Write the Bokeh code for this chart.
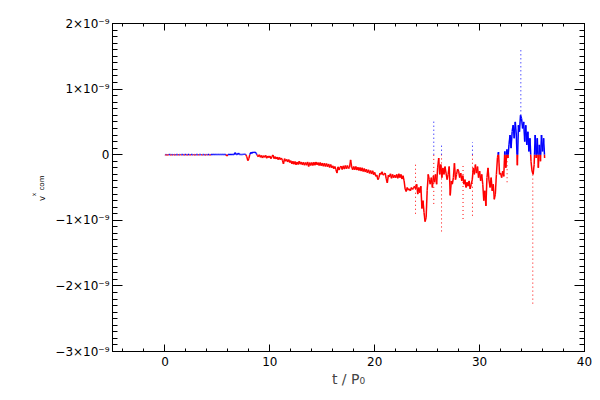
import numpy as np
from bokeh.plotting import figure
from bokeh.models import LinearAxis, FixedTicker, Range1d, ColumnDataSource, Label, Grid
from bokeh.embed import file_html
from bokeh.resources import INLINE

# ---------------- data (velocity in units of 1e-9) ----------------
t_start = 0.0
t_step = 0.1
v_com_x = [
    0.003, -0.004, 0.002, -0.005, 0.003, 0.002, -0.004, 0.003, -0.003, 0.002,
    -0.004, 0.003, 0.002, -0.005, 0.003, -0.003, 0.002, 0.003, -0.004, 0.002,
    0.003, -0.004, 0.002, 0.003, -0.005, 0.002, 0.003, -0.003, 0.002, -0.004,
    0.002, 0.003, -0.004, 0.002, 0.003, -0.005, 0.002, 0.003, -0.004, 0.003,
    -0.003, 0.002, 0.003, -0.004, 0.002, 0.003, 0.002, 0.003, 0.002, 0.003,
    0.003, 0.002, 0.003, 0.002, 0.003, 0.002, 0.003, 0.002, 0.003, -0.02,
    0.003, 0.002, 0.004, 0.003, 0.002, 0.003, 0.003, 0.03, 0.003, 0.002,
    0.025, 0.003, 0.002, 0.004, 0.003, 0.005, 0.006, 0.004, -0.03, -0.09,
    -0.06, 0.01, 0.035, 0.02, 0.04, 0.03, 0.04, 0.02, -0.01, -0.03,
    0.0, -0.04, -0.01, -0.05, -0.015, -0.04, -0.01, -0.055, -0.02, -0.045,
    -0.02, -0.06, -0.03, -0.005, -0.06, -0.03, -0.065, -0.035, -0.075, -0.04,
    -0.075, -0.05, -0.085, -0.14, -0.06, -0.1, -0.07, -0.11, -0.075, -0.12,
    -0.09, -0.14, -0.1, -0.145, -0.105, -0.155, -0.11, -0.15, -0.1, -0.145,
    -0.11, -0.155, -0.115, -0.16, -0.12, -0.16, -0.11, -0.18, -0.12, -0.165,
    -0.12, -0.165, -0.115, -0.16, -0.11, -0.155, -0.12, -0.165, -0.12, -0.17,
    -0.125, -0.175, -0.13, -0.18, -0.135, -0.185, -0.14, -0.195, -0.15, -0.2,
    -0.17, -0.215, -0.18, -0.225, -0.28, -0.185, -0.235, -0.19, -0.175, -0.225,
    -0.17, -0.22, -0.165, -0.215, -0.165, -0.21, -0.195, -0.08, -0.185, -0.23,
    -0.18, -0.23, -0.18, -0.235, -0.19, -0.24, -0.195, -0.25, -0.2, -0.255,
    -0.21, -0.265, -0.22, -0.275, -0.23, -0.285, -0.24, -0.295, -0.245, -0.305,
    -0.27, -0.33, -0.31, -0.38, -0.35, -0.28, -0.3, -0.26, -0.31, -0.3,
    -0.28, -0.37, -0.43, -0.31, -0.34, -0.29, -0.36, -0.3, -0.35, -0.31,
    -0.35, -0.3, -0.36, -0.29, -0.35, -0.3, -0.37, -0.32, -0.4, -0.52,
    -0.56, -0.5, -0.54, -0.52, -0.55, -0.5, -0.53, -0.51, -0.48, -0.52,
    -0.45, -0.6, -0.5, -0.58, -0.48, -0.82, -0.7, -0.88, -1.02, -0.96,
    -0.55, -0.3, -0.38, -0.45, -0.35, -0.5, -0.32, -0.42, -0.3, -0.45,
    -0.2, -0.05, -0.3, -0.15, -0.35, -0.2, -0.3, -0.18, -0.28, -0.38,
    -0.3, -0.18, -0.62, -0.4, -0.45, -0.35, -0.13, -0.38, -0.3, -0.22,
    -0.25, -0.35, -0.28, -0.4, -0.32, -0.45, -0.38, -0.5, -0.42, -0.48,
    -0.4, -0.52, -0.45, -0.38, -0.2, -0.3, -0.15, -0.28, -0.18, -0.35,
    -0.25, -0.4, -0.3, -0.45, -0.7, -0.55, -0.78, -0.35, -0.2, -0.4,
    -0.5, -0.35, -0.55, -0.45, -0.68, -0.6, -0.3, -0.05, 0.04, -0.3,
    -0.28, -0.35, -0.25, -0.33, 0.05, -0.2, 0.08, -0.05, 0.15, 0.3,
    0.1, 0.35, 0.45, 0.25, 0.5, 0.3, -0.16, 0.45, 0.35, 0.6,
    0.55, 0.4, 0.5, 0.2, 0.45, 0.15, 0.35, 0.05, 0.25, -0.1,
    -0.25, -0.3, -0.15, 0.3, -0.05, 0.25, -0.2, 0.15, -0.1, 0.3,
    0.05, 0.25, -0.05,
]

# fast excursions (sparse, dotted in the original)
spike_t = [23.89, 25.63, 26.37, 28.42, 29.32, 32.62, 33.93, 35.07]
spike_lo = [-0.9, -0.75, -1.17, -0.98, -0.93, -0.42, 0.6, -2.27]
spike_hi = [-0.12, 0.52, 0.18, -0.13, 0.19, 0.0, 1.62, -0.25]

x_ticks = [0, 10, 20, 30, 40]
y_ticks = [-3, -2, -1, 0, 1, 2]
y_tick_labels = ["\u22123\u00d710\u207b\u2079", "\u22122\u00d710\u207b\u2079",
                 "\u22121\u00d710\u207b\u2079", "0",
                 "1\u00d710\u207b\u2079", "2\u00d710\u207b\u2079"]

BLUE = "#0000ff"
RED = "#ff0000"
FONT = "DejaVu Sans"


def split_at_zero(x0, y0, x1, y1):
    out = {"x0": [], "y0": [], "x1": [], "y1": [], "color": []}

    def add(a, b, c, d, col):
        out["x0"].append(a); out["y0"].append(b)
        out["x1"].append(c); out["y1"].append(d)
        out["color"].append(col)

    for a, b, c, d in zip(x0, y0, x1, y1):
        cb = BLUE if b >= 0 else RED
        cd = BLUE if d >= 0 else RED
        if cb == cd:
            add(a, b, c, d, cb)
        else:
            xc = a + (c - a) * b / (b - d)
            add(a, b, xc, 0.0, cb)
            add(xc, 0.0, c, d, cd)
    return out


t = [t_start + t_step * i for i in range(len(v_com_x))]
main = split_at_zero(t[:-1], v_com_x[:-1], t[1:], v_com_x[1:])
spk = split_at_zero(spike_t, spike_lo, spike_t, spike_hi)

p = figure(width=600, height=400,
           x_range=Range1d(-5, 40), y_range=Range1d(-3, 2),
           output_backend="svg", toolbar_location=None,
           x_axis_location=None, y_axis_location=None,
           min_border_left=112, min_border_right=16,
           min_border_top=23, min_border_bottom=49)
p.background_fill_color = "white"
p.border_fill_color = "white"
p.outline_line_color = "black"
p.outline_line_width = 1
p.center = [c for c in p.center if not isinstance(c, Grid)]

p.segment(x0="x0", y0="y0", x1="x1", y1="y1", color="color",
          line_width=1.5, source=ColumnDataSource(main))
p.segment(x0="x0", y0="y0", x1="x1", y1="y1", color="color",
          line_width=1, line_dash="1 3", source=ColumnDataSource(spk))

x_minor = [v / 1.0 for v in range(-4, 41, 2)]
y_minor = [v / 10.0 for v in range(-30, 21)]


def axis(ticks, minor, major_len, minor_len, show_labels):
    ax = LinearAxis(ticker=FixedTicker(ticks=ticks, minor_ticks=minor))
    ax.major_tick_in = major_len
    ax.major_tick_out = 0
    ax.minor_tick_in = minor_len
    ax.minor_tick_out = 0
    ax.axis_line_color = "black"
    ax.major_tick_line_color = "black"
    ax.minor_tick_line_color = "black"
    ax.major_label_text_font = FONT
    ax.major_label_text_color = "black"
    ax.major_label_text_font_size = "12px"
    if not show_labels:
        ax.major_label_overrides = {k: "" for k in ticks}
        ax.major_label_standoff = 0
    return ax


xb = axis(x_ticks, x_minor, 7, 3, True)
xb.major_label_standoff = 5
xb.axis_label = "t / P\u2080"
xb.axis_label_text_font = FONT
xb.axis_label_text_font_size = "14px"
xb.axis_label_text_font_style = "normal"
xb.axis_label_standoff = 2
p.add_layout(xb, "below")

xt = axis(x_ticks, x_minor, 7, 3, False)
p.add_layout(xt, "above")

yl = axis(y_ticks, y_minor, 10, 5, True)
yl.major_label_standoff = 3
yl.major_label_overrides = {k: s for k, s in zip(y_ticks, y_tick_labels)}
p.add_layout(yl, "left")

yr = axis(y_ticks, y_minor, 10, 5, False)
p.add_layout(yr, "right")

# y-axis title  v^x_com  (rotated), placed in canvas pixels in the left panel
for txt, xx, yy, fs in [("v", 41.0, 200.5, "8.5px"),
                        ("x", 33.3, 195.7, "6px"),
                        ("com", 41.7, 190.0, "7px")]:
    p.add_layout(Label(x=xx, y=yy, x_units="canvas", y_units="canvas",
                       text=txt, angle=np.pi / 2,
                       text_align="left", text_baseline="alphabetic",
                       text_font=FONT, text_font_size=fs, text_color="black"),
                 "left")

open("out.html", "w").write(file_html(p, INLINE))
